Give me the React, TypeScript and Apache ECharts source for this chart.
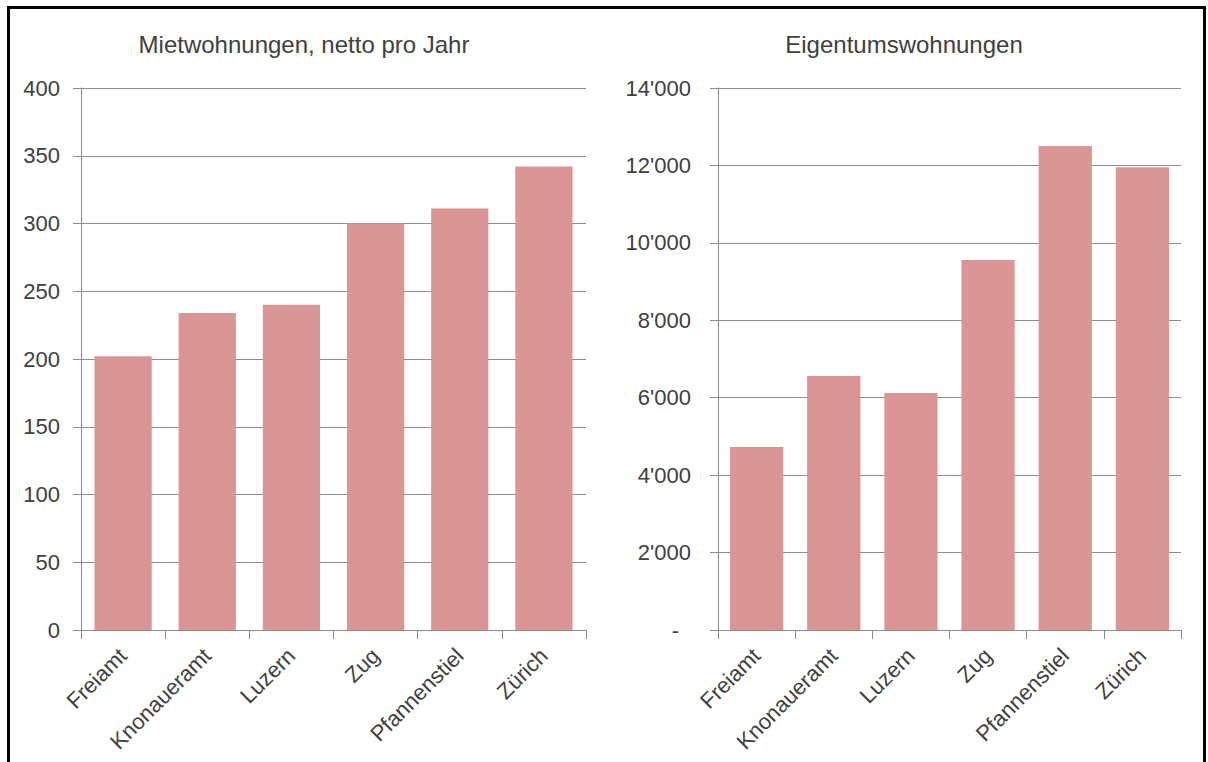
import React, { useEffect, useRef } from "react";
import * as echarts from "echarts";

const categories = ["Freiamt", "Knonaueramt", "Luzern", "Zug", "Pfannenstiel", "Zürich"];
const mietValues = [202, 234, 240, 300, 311, 342];
const eigentumValues = [4730, 6560, 6120, 9560, 12500, 11950];
const titles = ["Mietwohnungen, netto pro Jahr", "Eigentumswohnungen"];
const mietAxis = [0, 400, 50]; // min, max, interval
const eigentumAxis = [0, 14000, 2000];

const FONT = "'Liberation Sans', Arial, sans-serif";
const TEXT = "#404040";
const GRID = "#8c8c8c";
const BAR = "#d99694";

function fmtThousands(v: number): string {
  if (v === 0) return "{z|-}";
  return String(v).replace(/\B(?=(\d{3})+(?!\d))/g, "'");
}

export default function App() {
  const ref = useRef<HTMLDivElement>(null);
  useEffect(() => {
    document.body.style.margin = "0";
    const chart = echarts.init(ref.current!, null, { renderer: "svg" });
    const xAxisBase = (gridIndex: number) => ({
      type: "category",
      gridIndex,
      data: categories,
      axisLine: { lineStyle: { color: GRID, width: 1 } },
      axisTick: { show: true, length: 9, lineStyle: { color: GRID } },
      axisLabel: {
        rotate: 45,
        margin: 22,
        color: TEXT,
        fontSize: 22,
        fontFamily: FONT,
        interval: 0,
      },
    });
    const yAxisBase = (gridIndex: number, ax: number[], margin: number, formatter: any) => ({
      type: "value",
      gridIndex,
      min: ax[0],
      max: ax[1],
      interval: ax[2],
      axisLine: { show: true, lineStyle: { color: GRID, width: 1 } },
      axisTick: { show: true, length: 8, lineStyle: { color: GRID } },
      splitLine: { show: true, lineStyle: { color: GRID, width: 1 } },
      axisLabel: {
        margin,
        color: TEXT,
        fontSize: 22,
        fontFamily: FONT,
        formatter,
        rich: { z: { padding: [0, 12, 0, 0], color: TEXT, fontSize: 22, fontFamily: FONT } },
      },
    });
    chart.setOption({
      animation: false,
      backgroundColor: "#ffffff",
      grid: [
        { left: 81, top: 88, width: 505, height: 542 },
        { left: 718, top: 88, width: 463, height: 542 },
      ],
      xAxis: [xAxisBase(0), xAxisBase(1)],
      yAxis: [
        yAxisBase(0, mietAxis, 21, (v: number) => String(v)),
        yAxisBase(1, eigentumAxis, 27, fmtThousands),
      ],
      series: [
        {
          type: "bar",
          xAxisIndex: 0,
          yAxisIndex: 0,
          data: mietValues,
          barCategoryGap: "32%",
          itemStyle: { color: BAR },
        },
        {
          type: "bar",
          xAxisIndex: 1,
          yAxisIndex: 1,
          data: eigentumValues,
          barCategoryGap: "31%",
          itemStyle: { color: BAR },
        },
      ],
      graphic: [
        {
          type: "rect",
          shape: { x: 8.5, y: 7.5, width: 1196, height: 800 },
          style: { fill: "none", stroke: "#000", lineWidth: 3 },
          silent: true,
        },
        {
          type: "text",
          x: 304,
          y: 44,
          style: {
            text: titles[0],
            fill: TEXT,
            fontSize: 24,
            fontFamily: FONT,
            align: "center",
            verticalAlign: "middle",
          },
        },
        {
          type: "text",
          x: 904,
          y: 44,
          style: {
            text: titles[1],
            fill: TEXT,
            fontSize: 24,
            fontFamily: FONT,
            align: "center",
            verticalAlign: "middle",
          },
        },
      ],
    });
    return () => chart.dispose();
  }, []);
  return <div ref={ref} style={{ width: 1208, height: 762 }} />;
}
